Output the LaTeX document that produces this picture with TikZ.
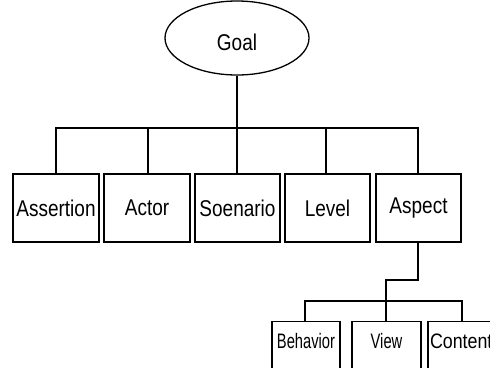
\documentclass[tikz,border=0pt]{standalone}
\usepackage{fontspec}
\setmainfont{Liberation Sans}
\usetikzlibrary{shapes.geometric}
% narrow, tall lettering for the labels
\newcommand{\upperlbl}[1]{\scalebox{1}[1.2]{#1}}
\newcommand{\lowerlbl}[1]{\scalebox{0.95}[1.35]{#1}}
\begin{document}
\begin{tikzpicture}[x=1pt,y=-1pt,
  wire/.style={line width=1.3pt},
  topbox/.style={draw,line width=1.3pt,rectangle,inner sep=0pt,
    minimum height=68pt,font=\fontsize{19}{21}\selectfont},
  subbox/.style={draw,line width=1.3pt,rectangle,inner sep=0pt,
    text height=26.5pt,text depth=45pt,font=\fontsize{15.5}{17}\selectfont},
  goalnode/.style={draw,ellipse,line width=1.3pt,inner sep=0pt,
    minimum width=144pt,minimum height=74pt}]
\useasboundingbox (0,0) rectangle (490,367);
\clip (0,0) rectangle (490,367);

% root
\node[goalnode,label={[font=\fontsize{19}{21}\selectfont,yshift=-4pt]center:\upperlbl{Goal}}] (goal) at (237,38) {};

% first level
\node[topbox,minimum width=86pt] (assertion) at (56,208) {\upperlbl{Assertion}};
\node[topbox,minimum width=86pt] (actor) at (147,208) {\upperlbl{Actor}};
\node[topbox,minimum width=85pt] (scenario) at (237.5,208) {\upperlbl{Soenario}};
\node[topbox,minimum width=85pt] (level) at (327.5,208) {\upperlbl{Level}};
\node[topbox,minimum width=85pt] (aspect) at (418.5,208) {\upperlbl{Aspect}};

% second level under Aspect
\node[subbox,minimum width=68pt,anchor=north] (behavior) at (306,321) {\lowerlbl{Behavior}};
\node[subbox,minimum width=69pt,anchor=north] (view) at (386.5,321) {\lowerlbl{View}};
\node[subbox,minimum width=68pt,anchor=north,text width=64pt,align=left] (content) at (462,321) {\scalebox{1.15}[1.35]{Content}};

% connectors from the root
\draw[wire] (goal.south) -- (237,128) coordinate (bus);
\draw[wire] (assertion.north -| 56,0) |- (bus) -| (aspect.north -| 418,0);
\draw[wire] (actor.north -| 148,0) -- (148,128);
\draw[wire] (scenario.north -| 237,0) -- (bus);
\draw[wire] (level.north -| 326,0) -- (326,128);

% connectors from Aspect
\draw[wire] (aspect.south -| 418,0) -- (418,280) -| (view.north -| 386,0);
\draw[wire] (behavior.north -| 305,0) |- (462,301) -- (content.north -| 462,0);
\end{tikzpicture}
\end{document}
